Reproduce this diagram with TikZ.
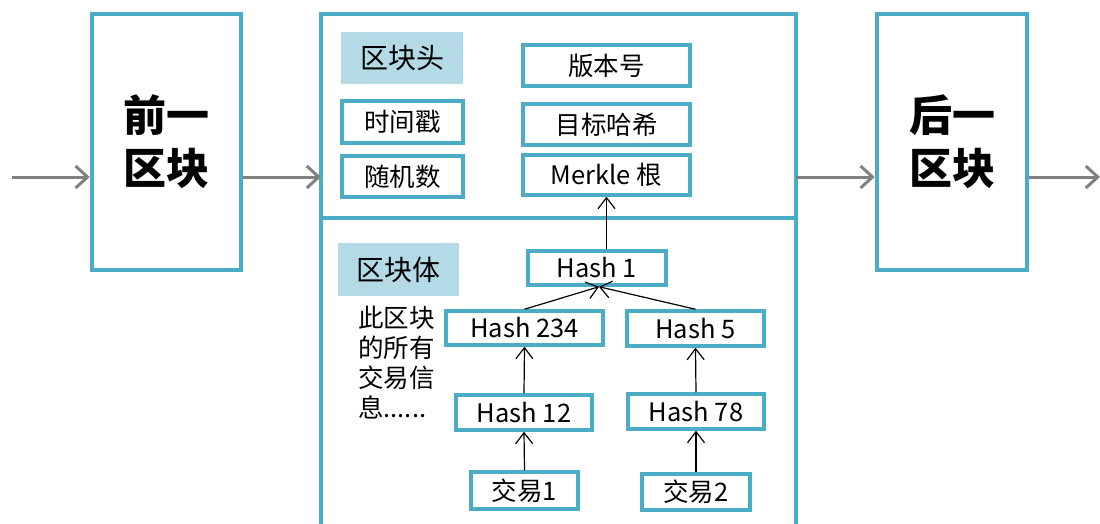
\documentclass[tikz,border=0pt]{standalone}
\usepackage{fontspec}
\setmainfont{Noto Sans CJK SC}
\usetikzlibrary{arrows.meta,positioning,calc}
\definecolor{teal}{HTML}{4BACC6}
\definecolor{lbl}{HTML}{B4DAE6}
\definecolor{arrgray}{HTML}{808080}
\begin{document}
\begin{tikzpicture}[x=1pt,y=-1pt,
  bigbox/.style={draw=teal,line width=4.5pt,fill=white,inner sep=0pt,font=\fontsize{43}{53}\selectfont\bfseries,align=center},
  smallbox/.style={draw=teal,line width=3.5pt,fill=white,inner sep=0pt,font=\fontsize{25.5}{28}\selectfont},
  lblbox/.style={fill=lbl,inner sep=0pt,font=\fontsize{28}{32}\selectfont},
  grayarr/.style={draw=arrgray,line width=3pt,-{Straight Barb[length=12pt,width=22pt,line width=3pt]}},
  blkarr/.style={draw=black,line width=1.2pt,-{Straight Barb[length=11pt,width=17pt,line width=1.2pt]}}]
\useasboundingbox (0,0) rectangle (1100,524);
% outer blocks
\node[bigbox,minimum width=149pt,minimum height=256pt] (prev) at (166.5,142) {前一\\区块};
\node[bigbox,minimum width=150pt,minimum height=256pt] (next) at (952,142) {后一\\区块};
% main block (extends beyond bottom)
\draw[teal,line width=4.5pt] (321,530) -- (321,14) -- (796,14) -- (796,530);
\draw[teal,line width=4.5pt] (321,218) -- (796,218);
\coordinate (mainL) at (321,177);
\coordinate (mainR) at (796,177);
\coordinate (inL) at (12,177);
\coordinate (outR) at (1100,177);
% header
\node[lblbox,minimum width=122pt,minimum height=52pt] (hdr) at (402,58) {区块头};
\node[smallbox,minimum width=167pt,minimum height=41pt] (ver) at (606.5,65.5) {版本号};
\node[smallbox,minimum width=121pt,minimum height=42pt] (ts) at (402.5,122) {时间戳};
\node[smallbox,minimum width=167pt,minimum height=41pt] (tgt) at (606.5,124.5) {目标哈希};
\node[smallbox,minimum width=121pt,minimum height=41pt] (nonce) at (402.5,176.5) {随机数};
\node[smallbox,minimum width=167pt,minimum height=40pt] (merkle) at (606.5,175) {Merkle 根};
% body
\node[lblbox,minimum width=121pt,minimum height=53pt] (body) at (398.5,269.5) {区块体};
\node[anchor=north west,inner sep=0pt,align=left,font=\fontsize{25.5}{30}\selectfont] (desc) at (358,306) {此区块\\的所有\\交易信\\息......};
\node[smallbox,minimum width=138pt,minimum height=34pt] (h1) at (597,268) {Hash 1};
\node[smallbox,minimum width=157pt,minimum height=34pt] (h234) at (524.5,328) {Hash 234};
\node[smallbox,minimum width=137pt,minimum height=35pt] (h5) at (695.5,328.5) {Hash 5};
\node[smallbox,minimum width=136pt,minimum height=35pt] (h12) at (524,412.5) {Hash 12};
\node[smallbox,minimum width=136pt,minimum height=35pt] (h78) at (696,411.5) {Hash 78};
\node[smallbox,minimum width=107pt,minimum height=37pt] (t1) at (524.5,490.5) {交易1};
\node[smallbox,minimum width=108pt,minimum height=36pt] (t2) at (696,492) {交易2};
% gray chain arrows
\draw[grayarr] (inL) -- (inL -| prev.west);
\draw[grayarr] (inL -| prev.east) -- (mainL);
\draw[grayarr] (mainR) -- (mainR -| next.west);
\draw[grayarr] (mainR -| next.east) -- (outR);
% merkle arrows
\draw[blkarr] (h1.north -| merkle.south) -- (merkle.south);
\draw[blkarr] (h234.north) -- ($(h1.south)+(2,0)$);
\draw[blkarr] (h5.north) -- ($(h1.south)+(2,0)$);
\draw[blkarr] (h12.north) -- (h234.south);
\draw[blkarr] (h78.north) -- (h5.south);
\draw[blkarr] (t1.north) -- (h12.south);
\draw[blkarr] (t2.north) -- (h78.south);
\end{tikzpicture}
\end{document}
